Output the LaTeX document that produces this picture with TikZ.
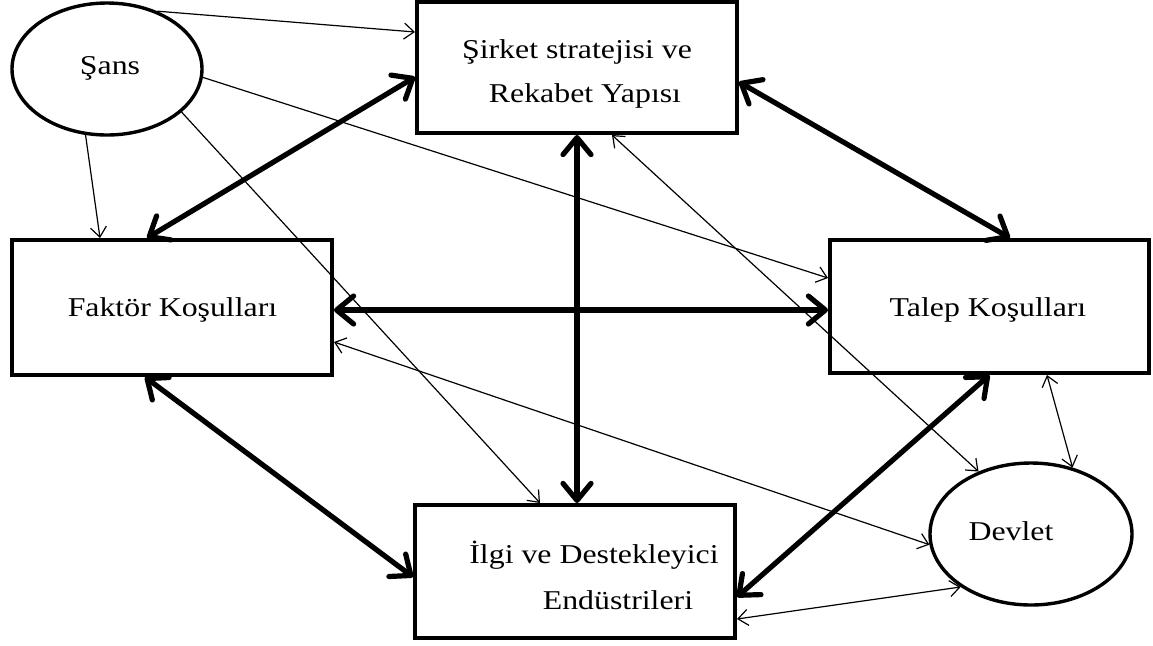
\documentclass[tikz,border=0pt]{standalone}
\usepackage{fontspec}
\setmainfont{Liberation Serif}[FakeStretch=1.17]
\usetikzlibrary{arrows.meta,shapes.geometric,calc}
\tikzset{
  boxnode/.style={draw, line width=2pt, rectangle, inner sep=0pt, minimum width=160pt, minimum height=66.5pt},
  ovalnode/.style={draw, line width=1.7pt, ellipse, inner sep=0pt},
  lbl/.style={anchor=base, inner sep=0pt, font=\fontsize{13.6pt}{16pt}\selectfont},
  bigarrow/.style={line width=2.6pt, line cap=round,
    {Straight Barb[length=8.5pt, width=14pt, line cap=round, line join=round]}-{Straight Barb[length=8.5pt, width=14pt, line cap=round, line join=round]}},
  thinarrow/.style={line width=0.6pt, -{Straight Barb[length=5pt, width=8pt]}},
  thinboth/.style={line width=0.6pt, {Straight Barb[length=5pt, width=8pt]}-{Straight Barb[length=5pt, width=8pt]}}
}
\begin{document}
\begin{tikzpicture}[x=0.5pt,y=-0.5pt]
\useasboundingbox[fill=white] (0,0) rectangle (1153,645);
% nodes
\node[ovalnode, minimum width=95pt, minimum height=66pt] (sans) at (107,69) {};
\node[ovalnode, minimum width=101pt, minimum height=71pt] (devlet) at (1031,534) {};
\node[boxnode, minimum height=65.5pt] (sirket) at (577,67.5) {};
\node[boxnode, minimum height=67.5pt] (faktor) at (172,307.5) {};
\node[boxnode, minimum width=159.5pt] (talep) at (989.5,306.5) {};
\node[boxnode] (ilgi) at (575,571.5) {};
% labels
\node[lbl] (sansT) at (110,74) {Şans};
\node[lbl] (devletT) at (1011,540) {Devlet};
\node[lbl] (sirketT1) at (577,58) {Şirket stratejisi ve};
\node[lbl] (sirketT2) at (585,102) {Rekabet Yapısı};
\node[lbl] (faktorT) at (172.5,316) {Faktör Koşulları};
\node[lbl] (talepT) at (988,316) {Talep Koşulları};
\node[lbl] (ilgiT1) at (594,563) {İlgi ve Destekleyici};
\node[lbl] (ilgiT2) at (618,609) {Endüstrileri};
% helper coordinate
\coordinate (fe) at ($(faktor.east)+(0,2.5)$);
% thick double arrows
\draw[bigarrow] ($(sirket.west)+(0,9.5)$) -- ($(faktor.north)+(-25,0)$);
\draw[bigarrow] ($(sirket.east)+(0,14.5)$) -- ($(talep.north)+(20.5,0)$);
\draw[bigarrow] (sirket.south) -- (sirket.south |- ilgi.north);
\draw[bigarrow] (fe) -- (fe -| talep.west);
\draw[bigarrow] ($(faktor.south)+(-27,0)$) -- ($(ilgi.west)+(0,5.5)$);
\draw[bigarrow] (talep.south) -- ($(ilgi.east)+(0,25.5)$);
% thin arrows from Sans
\draw[thinarrow] (sans.49) -- ($(sirket.west)+(0,-35.5)$);
\draw[thinarrow] (sans.252) -- ($(faktor.north)+(-72,0)$);
\draw[thinarrow] (sans.-5) -- ($(talep.west)+(0,-28.5)$);
\draw[thinarrow] (sans.-30) -- ($(ilgi.north)+(-35,0)$);
% thin double arrows with Devlet
\draw[thinboth] ($(sirket.south)+(35,0)$) -- (devlet.130);
\draw[thinboth] ($(faktor.east)+(0,34.5)$) -- (devlet.186);
\draw[thinboth] ($(talep.south)+(57.5,0)$) -- (devlet.58);
\draw[thinboth] ($(ilgi.east)+(0,47.5)$) -- (devlet.217);
\end{tikzpicture}
\end{document}
